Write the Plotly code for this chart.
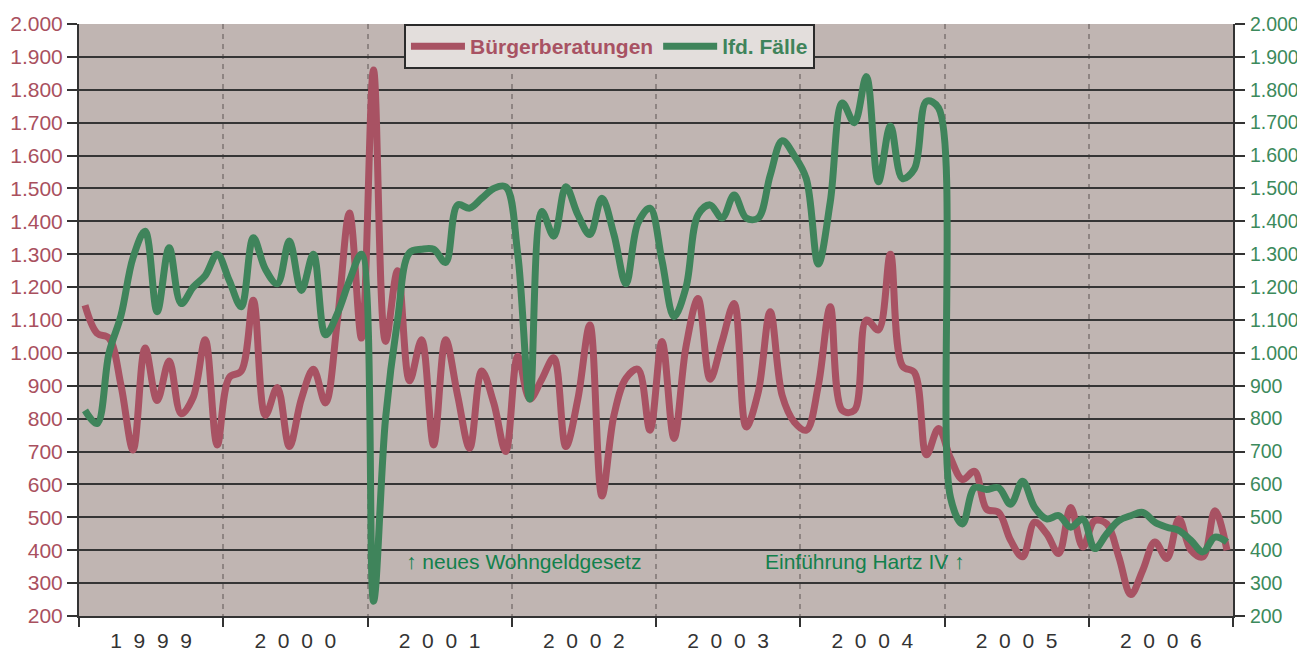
import numpy as np
import plotly.graph_objects as go

# Monatswerte 1999 - 2006
years = ['1999', '2000', '2001', '2002', '2003', '2004', '2005', '2006']

buergerberatungen = [
    1145, 1060, 1045, 900, 705, 1015, 855, 975, 815, 865, 1040, 720,      # 1999
    925, 945, 1160, 810, 895, 715, 860, 950, 848, 1100, 1425, 1045,       # 2000
    1860, 1035, 1250, 915, 1040, 720, 1040, 870, 710, 945, 848, 700,      # 2001
    990, 860, 920, 985, 715, 860, 1085, 565, 810, 923, 950, 765,          # 2002
    1035, 740, 1020, 1165, 920, 1035, 1150, 775, 880, 1125, 870, 790,     # 2003
    765, 900, 1140, 825, 825, 1100, 1070, 1300, 960, 940, 690, 770,       # 2004
    680, 615, 640, 525, 515, 430, 380, 485, 450, 390, 530, 410,           # 2005
    490, 480, 380, 265, 340, 425, 375, 495, 400, 380, 520, 400,           # 2006
]

lfd_faelle = [
    825, 785, 1000, 1115, 1290, 1370, 1125, 1320, 1150, 1200, 1235, 1300,
    1220, 1140, 1350, 1255, 1210, 1340, 1190, 1300, 1055, 1120, 1220, 1300,
    245, 800, 1100, 1305, 1315, 1315, 1275, 1450, 1440, 1470, 1500, 1505,
    1300, 860, 1430, 1355, 1505, 1420, 1360, 1470, 1360, 1210, 1395, 1440,
    1280, 1110, 1200, 1420, 1450, 1410, 1480, 1410, 1410, 1540, 1645, 1600,
    1530, 1270, 1460, 1760, 1700, 1840, 1520, 1690, 1530, 1560, 1765, 1745,
    560, 480, 590, 585, 590, 540, 610, 530, 495, 505, 470, 495,
    405, 450, 490, 505, 515, 485, 470, 460, 430, 395, 440, 425,
]

RED = '#A85263'
GREEN = '#3F845B'
RED_TXT = '#A9505E'
GREEN_TXT = '#3C8A5C'
NOTE_TXT = '#12804C'
FONT = 'Liberation Sans, Arial, sans-serif'

x = np.arange(len(buergerberatungen))
n_years = len(years)
year_centers = [12 * k + 5.5 for k in range(n_years)]
year_bounds = [12 * k - 0.5 for k in range(n_years + 1)]
# Jahreszahlen gesperrt wie im Original
year_labels = ['\u00a0\u00a0'.join(list(y)) for y in years]

fig = go.Figure()

fig.add_trace(go.Scatter(
    x=x, y=buergerberatungen,
    name='<b><span style="color:%s">Bürgerberatungen</span></b>' % RED,
    mode='lines',
    line=dict(color=RED, width=7, shape='spline', smoothing=1.0),
))

fig.add_trace(go.Scatter(
    x=x, y=lfd_faelle,
    name='<b><span style="color:%s">lfd. Fälle</span></b>' % GREEN,
    mode='lines', yaxis='y2',
    line=dict(color=GREEN, width=7, shape='spline', smoothing=1.0),
))

# Hinweise unten im Diagramm
fig.add_annotation(x=26.5, y=367, xref='x', yref='y', xanchor='left', yanchor='middle',
                   text='↑ neues Wohngeldgesetz', showarrow=False,
                   font=dict(family=FONT, size=21, color=NOTE_TXT))
fig.add_annotation(x=73.4, y=367, xref='x', yref='y', xanchor='right', yanchor='middle',
                   text='Einführung Hartz IV ↑', showarrow=False,
                   font=dict(family=FONT, size=21, color=NOTE_TXT))

# die Seite hat 8px Rand, daher etwas kleiner
fig.update_layout(
    width=1297, height=650,
    margin=dict(l=71, r=72, t=16, b=42),
    paper_bgcolor='white',
    plot_bgcolor='#C0B5B2',
    separators=',.',
    font=dict(family=FONT, size=21, color='#333333'),
    showlegend=True,
    legend=dict(
        orientation='h', x=0.2816, y=1.0, xanchor='left', yanchor='top',
        bgcolor='#E3DEDC', bordercolor='#2b2b2b', borderwidth=2,
        font=dict(family=FONT, size=21),
        itemwidth=54,
    ),
    xaxis=dict(
        range=[-0.5, len(x) - 0.5], automargin=False,
        tickmode='array', tickvals=year_centers, ticktext=year_labels,
        ticks='', showgrid=False, zeroline=False, ticklabelstandoff=5,
        showline=True, linecolor='#333333', linewidth=2,
        tickfont=dict(family=FONT, size=21, color='#333333'),
        minor=dict(tickmode='array', tickvals=year_bounds, ticks='outside',
                   ticklen=9, tickwidth=2, tickcolor='#333333',
                   showgrid=True, gridcolor='#8E8482', gridwidth=2,
                   griddash='5px,5px'),
    ),
    yaxis=dict(
        range=[200, 2000], dtick=100, tickformat=',d', automargin=False,
        ticks='outside', ticklen=10, tickwidth=2, tickcolor='#333333',
        showgrid=True, gridcolor='#353535', gridwidth=2, zeroline=False,
        showline=True, linecolor='#333333', linewidth=2,
        tickfont=dict(family=FONT, size=21, color=RED_TXT),
    ),
    yaxis2=dict(
        range=[200, 2000], dtick=100, tickformat=',d', automargin=False,
        overlaying='y', side='right',
        ticks='outside', ticklen=10, tickwidth=2, tickcolor='#333333',
        showgrid=False, zeroline=False, ticklabelstandoff=1,
        showline=True, linecolor='#333333', linewidth=2,
        tickfont=dict(family=FONT, size=19.5, color=GREEN_TXT),
    ),
)

fig.write_html('out.html')
